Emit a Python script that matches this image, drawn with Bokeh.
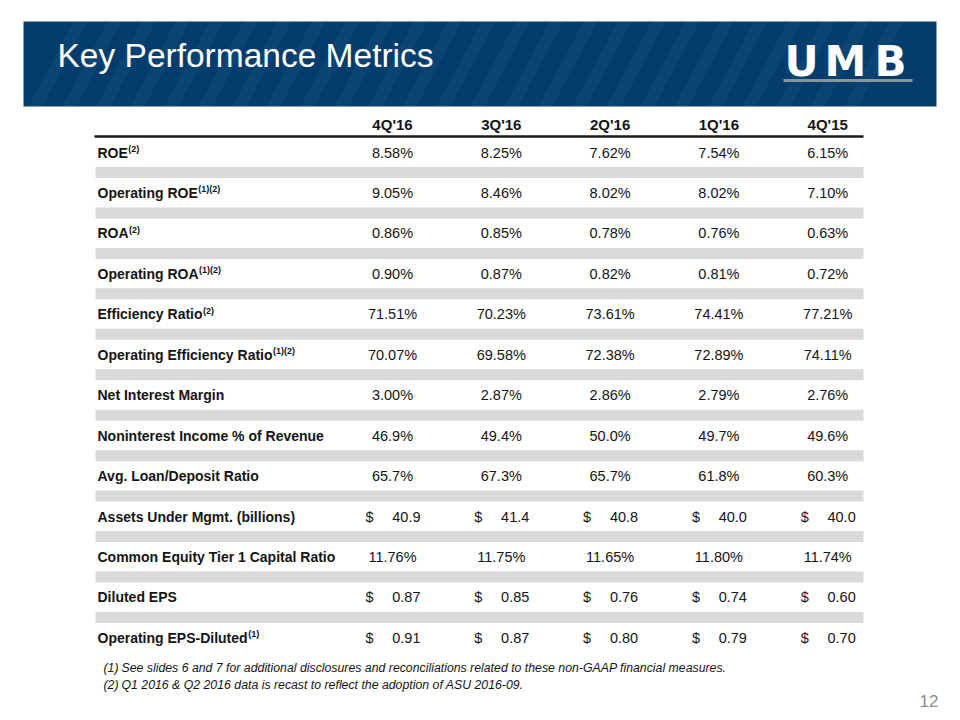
from bokeh.plotting import figure
from bokeh.models import Range1d
from bokeh.core.properties import value
from bokeh.embed import file_html
from bokeh.resources import INLINE

# ---------------- data ----------------
title = "Key Performance Metrics"
periods = ["4Q'16", "3Q'16", "2Q'16", "1Q'16", "4Q'15"]
metrics = [
    "ROE", "Operating ROE", "ROA", "Operating ROA", "Efficiency Ratio",
    "Operating Efficiency Ratio", "Net Interest Margin",
    "Noninterest Income % of Revenue", "Avg. Loan/Deposit Ratio",
    "Assets Under Mgmt. (billions)", "Common Equity Tier 1 Capital Ratio",
    "Diluted EPS", "Operating EPS-Diluted",
]
notes = ["(2)", "(1)(2)", "(2)", "(1)(2)", "(2)", "(1)(2)", "", "", "", "", "", "", "(1)"]
# kind: p2 = percent 2 dp, p1 = percent 1 dp, d1 = dollars 1 dp, d2 = dollars 2 dp
kinds = ["p2", "p2", "p2", "p2", "p2", "p2", "p2", "p1", "p1", "d1", "p2", "d2", "d2"]
q4_16 = [8.58, 9.05, 0.86, 0.90, 71.51, 70.07, 3.00, 46.9, 65.7, 40.9, 11.76, 0.87, 0.91]
q3_16 = [8.25, 8.46, 0.85, 0.87, 70.23, 69.58, 2.87, 49.4, 67.3, 41.4, 11.75, 0.85, 0.87]
q2_16 = [7.62, 8.02, 0.78, 0.82, 73.61, 72.38, 2.86, 50.0, 65.7, 40.8, 11.65, 0.76, 0.80]
q1_16 = [7.54, 8.02, 0.76, 0.81, 74.41, 72.89, 2.79, 49.7, 61.8, 40.0, 11.80, 0.74, 0.79]
q4_15 = [6.15, 7.10, 0.63, 0.72, 77.21, 74.11, 2.76, 49.6, 60.3, 40.0, 11.74, 0.60, 0.70]
footnotes = [
    ("(1)", "See slides 6 and 7 for additional disclosures and reconciliations related to these non-GAAP financial measures."),
    ("(2)", "Q1 2016 & Q2 2016 data is recast to reflect the adoption of ASU 2016-09."),
]
page_number = "12"
logo_letters = ["U", "M", "B"]

columns = [q4_16, q3_16, q2_16, q1_16, q4_15]

# ---------------- styling / layout ----------------
NAVY = "#043D6D"
BAND = "#D9D9D9"
INK = "#141414"
FONT = "Liberation Sans"

W, H = 960, 720
p = figure(width=W, height=H, x_range=Range1d(0, W), y_range=Range1d(H, 0),
           output_backend="svg", toolbar_location=None, min_border=0,
           x_axis_type=None, y_axis_type=None)
p.outline_line_color = None
p.background_fill_color = "white"
p.border_fill_color = "white"
p.xgrid.visible = False
p.ygrid.visible = False

# Arial Bold advance widths (per 1000 em) for label measurement
BW = {' ': 278, '(': 333, ')': 333, '.': 278, '/': 278, '%': 889, '-': 333, '$': 556,
      'A': 722, 'B': 722, 'C': 722, 'D': 722, 'E': 667, 'F': 611, 'G': 778, 'H': 722,
      'I': 278, 'L': 611, 'M': 833, 'N': 722, 'O': 778, 'P': 667, 'R': 722, 'S': 667,
      'T': 611, 'U': 722, 'a': 556, 'b': 611, 'c': 556, 'd': 611, 'e': 556, 'f': 333,
      'g': 611, 'h': 611, 'i': 278, 'l': 278, 'm': 889, 'n': 611, 'o': 611, 'p': 611,
      'r': 389, 's': 556, 't': 333, 'u': 611, 'v': 556, 'y': 556, 'k': 556, 'x': 556}
for d in "0123456789":
    BW[d] = 556


def bold_width(s, size):
    return sum(BW.get(c, 556) for c in s) * size / 1000.0


# ---------------- banner ----------------
b_left, b_right, b_top, b_bot = 23, 936, 21, 106
p.quad(left=b_left, right=b_right, top=b_top, bottom=b_bot, fill_color=NAVY, line_color=None)
# subtle diagonal texture
xs, ys = [], []
x0 = b_left + 5
while x0 + 45 + 14 < b_right:
    xs.append([x0, x0 + 14, x0 + 14 + 45, x0 + 45])
    ys.append([b_bot, b_bot, b_top, b_top])
    x0 += 34
p.patches(xs, ys, fill_color="white", fill_alpha=0.03, line_color=None)
p.segment(x0=b_left, y0=b_bot, x1=b_right, y1=b_bot, line_color="#8E9BAA", line_width=1)

p.text(x=[57], y=[55], text=[title], text_font=value(FONT), text_font_size="33.5px",
       text_color="white", text_align="left", text_baseline="middle")

# logo
p.text(x=[801, 845, 890], y=[60.5] * 3, text=logo_letters, text_font=value("DejaVu Sans"),
       text_font_size="42px", text_font_style="bold", text_color="white",
       text_align="center", text_baseline="middle")
p.quad(left=783, right=912, top=78.5, bottom=81.5, fill_color="#8C949C", line_color=None)

# ---------------- table ----------------
row0, pitch = 152.0, 40.45
row_y = [row0 + i * pitch for i in range(len(metrics))]
col_x = [392 + 108.8 * j for j in range(len(periods))]
t_left, t_right = 95, 863

# gray separator bands
band_c = [y + 20 for y in row_y[:-1]]
p.quad(left=t_left, right=t_right, top=[c - 5.5 for c in band_c], bottom=[c + 5.5 for c in band_c],
       fill_color=BAND, line_color=None)

# header
p.text(x=col_x, y=[124] * len(periods), text=periods, text_font=value(FONT), text_font_size="15px",
       text_font_style="bold", text_color=INK, text_align="center", text_baseline="middle")
p.segment(x0=94, y0=136, x1=t_right, y1=136, line_color="#1A1A1A", line_width=2.5)

# row labels
p.text(x=[97] * len(metrics), y=row_y, text=metrics, text_font=value(FONT), text_font_size="14px",
       text_font_style="bold", text_color=INK, text_align="left", text_baseline="middle")
sx, sy, st = [], [], []
for m, n, y in zip(metrics, notes, row_y):
    if n:
        sx.append(97 + bold_width(m, 14) + 0.5)
        sy.append(y - 3.5)
        st.append(n)
p.text(x=sx, y=sy, text=st, text_font=value(FONT), text_font_size="9px", text_font_style="bold",
       text_color=INK, text_align="left", text_baseline="middle")

# values
cx, cy, ct = [], [], []
dx, dy = [], []
nx, ny, nt = [], [], []
for j, col in enumerate(columns):
    for i, v in enumerate(col):
        k = kinds[i]
        if k.startswith("p"):
            cx.append(col_x[j]); cy.append(row_y[i])
            ct.append(f"{v:.{int(k[1])}f}%")
        else:
            dx.append(col_x[j] - 27); dy.append(row_y[i])
            nx.append(col_x[j] + 28); ny.append(row_y[i])
            nt.append(f"{v:.{int(k[1])}f}")
common = dict(text_font=value(FONT), text_font_size="14.5px", text_color=INK, text_baseline="middle")
p.text(x=cx, y=cy, text=ct, text_align="center", **common)
p.text(x=dx, y=dy, text=["$"] * len(dx), text_align="left", **common)
p.text(x=nx, y=ny, text=nt, text_align="right", **common)

# ---------------- footnotes ----------------
fy = [667.5, 684.5]
p.text(x=[103] * 2, y=fy, text=[f[0] for f in footnotes], text_font=value(FONT),
       text_font_size="12.3px", text_font_style="italic", text_color=INK, text_align="left",
       text_baseline="middle")
p.text(x=[121] * 2, y=fy, text=[f[1] for f in footnotes], text_font=value(FONT),
       text_font_size="12.3px", text_font_style="italic", text_color=INK, text_align="left",
       text_baseline="middle")
p.text(x=[938], y=[700], text=[page_number], text_font=value(FONT), text_font_size="17px",
       text_color="#8C8C8C", text_align="right", text_baseline="middle")

open("out.html", "w").write(file_html(p, INLINE))
